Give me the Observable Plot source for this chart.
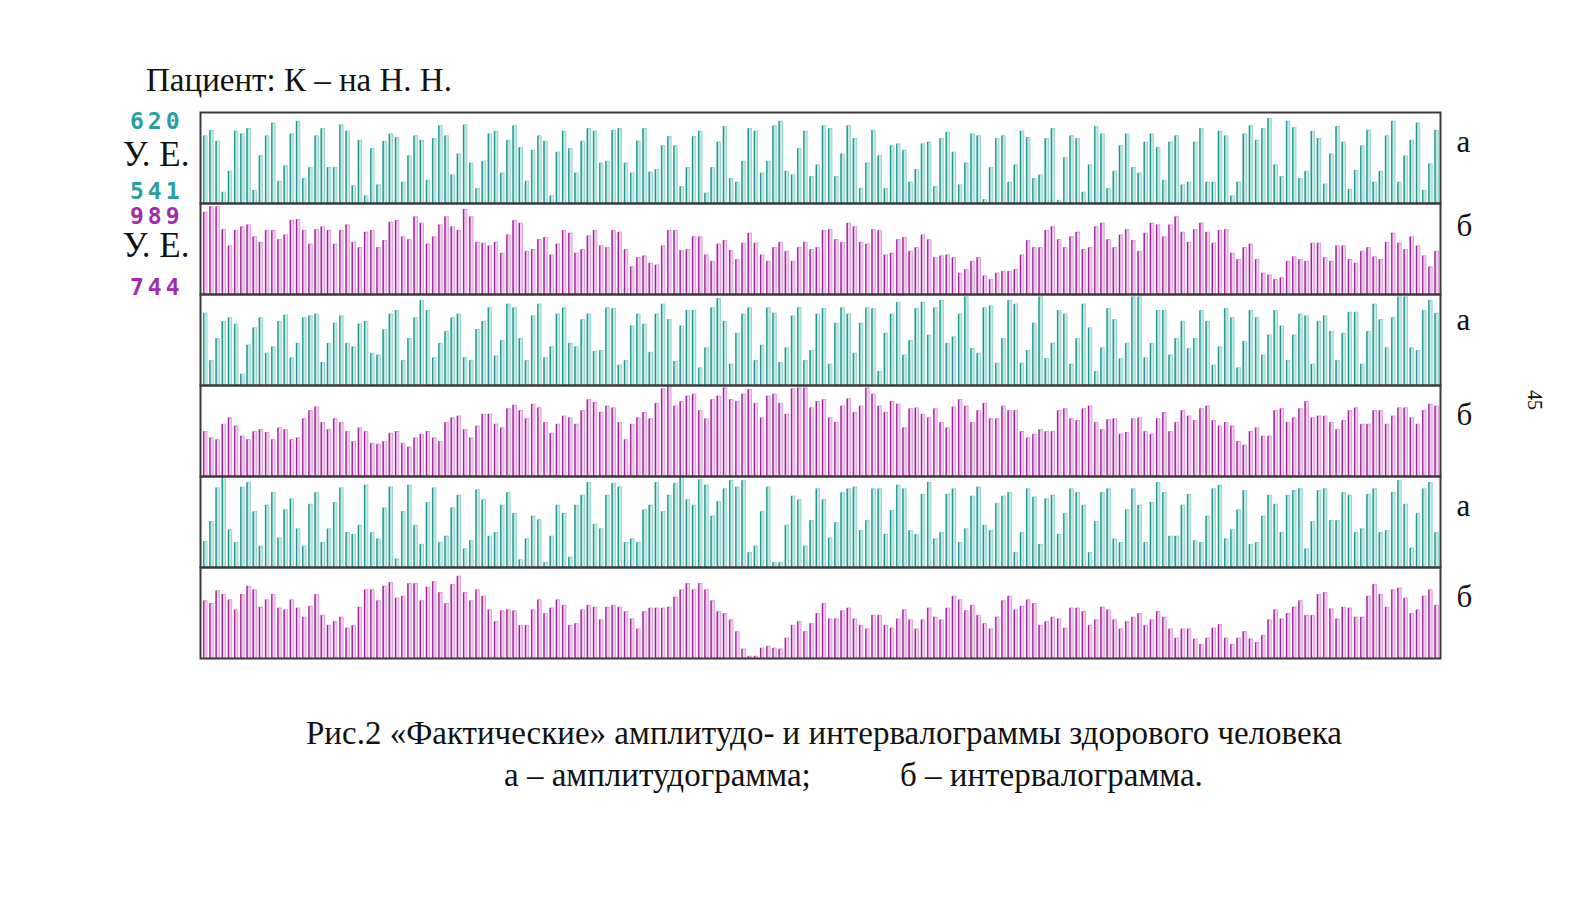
<!DOCTYPE html>
<html><head><meta charset="utf-8">
<script src="https://cdn.jsdelivr.net/npm/d3@7"></script>
<script src="https://cdn.jsdelivr.net/npm/@observablehq/plot@0.6"></script>
<style>
body{margin:0;background:#fff;}
#page{position:relative;width:1581px;height:909px;overflow:hidden;font-family:"Liberation Serif","Times New Roman",serif;color:#111;}
.t{position:absolute;white-space:pre;line-height:1;}
#chart{position:absolute;left:0;top:100px;}
#chart g[font-family="DejaVu Sans Mono"] text{letter-spacing:4px;}
</style></head><body><div id="page">
<div class="t" id="title" style="left:146px;top:64px;font-size:33px;"></div>
<div class="t" id="chart"></div>
<div class="t" id="cap1" style="left:306px;top:717px;font-size:33px;"></div>
<div class="t" id="cap2a" style="left:504px;top:759px;font-size:33px;"></div>
<div class="t" id="cap2b" style="left:900px;top:759px;font-size:33px;"></div>
<div class="t" id="pg" style="left:1535px;top:400px;font-size:20px;transform:translate(-50%,-50%) rotate(90deg);"></div>
</div>
<script>
// ---- texts ----
const titleText = "Пациент: К – на Н. Н.";
const caption1 = "Рис.2 «Фактические» амплитудо- и интервалограммы здорового человека";
const caption2a = "а – амплитудограмма;";
const caption2b = "б – интервалограмма.";
const pageNumber = "45";
const sideLabels = ["а","б","а","б","а","б"];
const topTicks = ["620","989"];      // panel 0 (amplitude), panel 1 (interval)
const bottomTicks = ["541","744"];
const unitLabel = "У. Е.";

// ---- series values (bar height, % of panel range) ----
const amp1 = [74,80,68,12,35,79,76,82,14,52,74,88,24,41,76,90,27,39,74,82,39,39,86,79,19,69,8,60,20,68,76,72,23,52,74,69,25,71,85,74,31,54,86,44,16,46,76,79,33,69,85,61,24,58,74,68,8,56,79,60,33,68,82,79,44,46,80,
82,44,33,68,82,34,37,63,73,63,18,39,73,79,11,39,67,84,27,23,46,82,79,33,46,85,90,35,31,60,79,29,42,85,82,29,54,85,71,16,44,80,52,16,63,65,58,23,37,65,67,18,71,78,56,20,44,76,74,4,39,71,74,23,42,79,
72,27,31,71,82,3,50,74,71,12,42,84,76,16,35,63,76,39,33,67,76,61,25,67,74,20,23,67,82,23,23,79,74,8,23,76,85,69,82,93,42,29,90,83,27,35,79,71,21,54,84,67,15,36,63,80,23,35,74,90,23,52,69,88,14,43,80];
const int1 = [90,96,96,71,53,70,74,76,63,57,70,70,60,65,81,82,70,55,71,74,70,55,70,76,57,51,68,70,51,59,79,81,63,60,85,78,55,63,76,85,74,70,93,85,57,56,53,57,45,65,81,78,47,49,60,62,43,55,70,67,45,49,64,70,53,51,70,
68,49,30,40,42,34,32,53,70,70,48,49,63,63,43,36,55,59,48,38,56,67,56,43,36,51,57,47,36,51,57,49,51,70,71,60,57,78,74,57,55,71,70,43,45,60,62,47,51,65,60,40,42,43,40,23,27,36,40,20,16,23,25,25,27,43,
59,51,51,70,74,60,51,63,68,49,51,74,78,60,51,65,71,59,47,67,78,76,63,76,85,68,57,71,78,68,56,70,71,45,38,51,55,38,23,21,16,18,36,41,38,36,56,56,40,36,53,53,38,34,47,51,41,38,57,67,56,49,63,53,42,30,47];
const amp2 = [79,27,51,70,74,67,12,44,63,74,35,42,70,77,30,46,74,76,78,25,46,68,76,46,42,67,70,35,33,61,78,82,27,51,74,93,82,30,46,59,74,78,30,27,61,70,85,32,49,89,85,51,27,76,89,30,42,78,85,46,42,72,78,37,38,85,84,
22,27,65,78,67,36,78,89,72,26,65,82,82,19,41,85,95,70,23,57,78,85,27,44,85,79,25,41,76,85,27,38,78,84,23,68,85,78,35,68,85,84,15,57,78,91,33,49,84,91,55,85,93,46,53,78,97,40,35,85,87,24,51,93,89,24,
38,68,97,29,46,82,78,23,51,89,63,15,41,84,72,29,46,97,97,30,46,82,82,33,51,70,40,51,82,70,22,42,84,74,19,48,82,74,33,55,82,65,27,55,78,76,23,70,76,59,27,57,80,80,23,59,89,72,41,74,97,97,41,38,82,93,79];
const int2 = [49,42,40,57,64,55,44,40,49,51,48,40,53,51,40,42,63,72,76,59,51,63,59,49,38,53,49,36,35,38,47,49,36,32,42,46,49,42,38,59,64,66,51,42,55,68,68,57,53,74,78,72,63,79,75,59,47,57,66,64,57,72,84,81,70,77,75,
59,40,57,64,70,63,80,96,100,77,82,88,90,72,63,84,88,97,84,82,90,95,80,64,88,90,80,68,96,97,97,75,82,84,64,59,77,85,70,77,97,90,77,70,82,79,53,74,75,68,64,74,59,53,76,84,77,59,72,80,63,63,77,72,72,49,
42,46,51,49,49,72,74,63,61,74,77,59,51,62,63,46,48,63,64,49,46,63,70,49,59,72,66,61,74,77,61,55,59,55,38,34,49,53,44,44,72,74,59,64,74,82,64,66,66,59,51,61,72,75,57,57,72,72,57,66,75,75,64,57,72,79,77];
const amp3 = [28,50,87,100,41,27,88,93,61,23,68,82,32,63,75,42,23,69,82,27,42,71,87,38,36,46,90,38,31,65,88,9,61,90,46,25,71,87,27,34,65,79,20,29,85,74,34,38,68,82,59,8,31,56,52,5,34,68,59,11,68,79,93,47,42,79,92,
88,27,31,27,63,68,93,61,79,92,100,74,68,96,90,56,72,86,95,88,95,16,23,61,88,5,5,46,78,74,23,51,86,74,32,49,82,86,88,40,51,86,86,36,62,90,86,40,36,80,93,31,38,80,86,27,42,78,88,46,40,70,78,82,16,38,
86,77,25,75,79,36,59,86,82,68,16,50,82,86,31,27,63,86,68,27,71,93,82,34,34,68,80,29,27,56,86,90,31,41,63,84,25,27,56,79,69,38,79,84,86,20,50,84,86,51,51,82,79,38,42,80,86,38,40,82,95,69,21,59,86,93,38];
const int3 = [63,60,74,70,64,53,70,79,75,56,64,70,55,53,64,55,45,57,70,47,36,40,45,33,36,56,75,75,63,79,83,66,68,82,82,63,78,84,72,60,81,90,72,63,75,68,53,40,52,53,52,36,36,53,64,49,55,64,58,36,38,53,58,56,42,56,58,
56,51,43,32,51,55,55,55,56,67,75,82,75,82,75,63,51,49,42,29,10,2,2,11,13,11,10,22,36,40,29,38,49,60,43,43,52,55,43,36,32,47,47,36,33,43,53,42,32,42,55,45,42,55,68,64,52,58,47,38,32,45,63,68,53,57,
64,60,36,40,45,43,33,55,55,51,36,42,56,53,42,32,40,45,49,36,42,51,45,32,22,32,32,21,15,22,33,37,22,15,22,29,21,17,25,42,53,43,49,56,63,47,47,70,72,54,43,56,55,45,45,68,81,70,56,75,77,66,49,53,68,75,58];

const panelKind = ["a","b","a","b","a","b"];
const series = [amp1,int1,amp2,int2,amp3,int3];

document.getElementById("title").textContent = titleText;
document.getElementById("cap1").textContent = caption1;
document.getElementById("cap2a").textContent = caption2a;
document.getElementById("cap2b").textContent = caption2b;
document.getElementById("pg").textContent = pageNumber;

const rows = series.flatMap((arr, p) => arr.map((v, i) => ({panel: p, i, v, kind: panelKind[p]})));
const light = {a: "#c2ebe8", b: "#f5cbf2"};
const edge  = {a: "#88cfca", b: "#d993d6"};
const dark  = {a: "#23958f", b: "#9b2597"};
const tickColor = ["#2a9fa0", "#a32aad"];

const panels = d3.range(6).map(p => ({panel: p, label: sideLabels[p]}));
const tickPanels = [0, 1].map(p => ({panel: p, top: topTicks[p], bottom: bottomTicks[p], color: tickColor[p], unit: unitLabel}));
const monoStyle = {fontFamily: "DejaVu Sans Mono", fontWeight: "bold", fontSize: 23, textAnchor: "end", fill: "color", fy: "panel"};
const sideStyle = {fy: "panel", text: "label", frameAnchor: "right", textAnchor: "start", dx: 16,
  fontFamily: "Liberation Serif", fontSize: 31, fill: "#111"};

const chart = Plot.plot({
  width: 1581,
  height: 568,
  marginLeft: 200,
  marginRight: 141,
  marginTop: 12,
  marginBottom: 10,
  x: {domain: [-0.53, 199.87], axis: null},
  y: {domain: [0, 100], axis: null},
  fy: {domain: d3.range(6), padding: 0, axis: null},
  color: {type: "identity"},
  marks: [
    Plot.rectY(rows, {x1: d => d.i, x2: d => d.i + 0.6, y1: 0, y2: "v", fy: "panel",
      fill: d => light[d.kind], stroke: d => edge[d.kind], strokeWidth: 0.8}),
    Plot.ruleX(rows, {x: "i", y1: 0, y2: "v", fy: "panel", stroke: d => dark[d.kind], strokeWidth: 1.3}),
    Plot.frame({stroke: "#3a3a3a", strokeWidth: 2}),
    Plot.text(panels.filter(d => d.panel !== 1 && d.panel !== 2), {...sideStyle, dy: -16}),
    Plot.text(panels.filter(d => d.panel === 1), {...sideStyle, dy: -23}),
    Plot.text(panels.filter(d => d.panel === 2), {...sideStyle, dy: -20}),
    Plot.text(tickPanels.slice(0, 1), {...monoStyle, text: "top", frameAnchor: "top-left", dx: -17, dy: 0}),
    Plot.text(tickPanels.slice(1, 2), {...monoStyle, text: "top", frameAnchor: "top-left", dx: -17, dy: 4}),
    Plot.text(tickPanels.slice(0, 1), {...monoStyle, text: "bottom", frameAnchor: "bottom-left", dx: -17, dy: -5}),
    Plot.text(tickPanels.slice(1, 2), {...monoStyle, text: "bottom", frameAnchor: "bottom-left", dx: -17, dy: 0}),
    Plot.text(tickPanels, {fy: "panel", text: "unit", frameAnchor: "left", textAnchor: "end", dx: -11, dy: -3,
      fontFamily: "Liberation Serif", fontSize: 35, fill: "#111"})
  ]
});
document.getElementById("chart").appendChild(chart);
</script>
</body></html>
